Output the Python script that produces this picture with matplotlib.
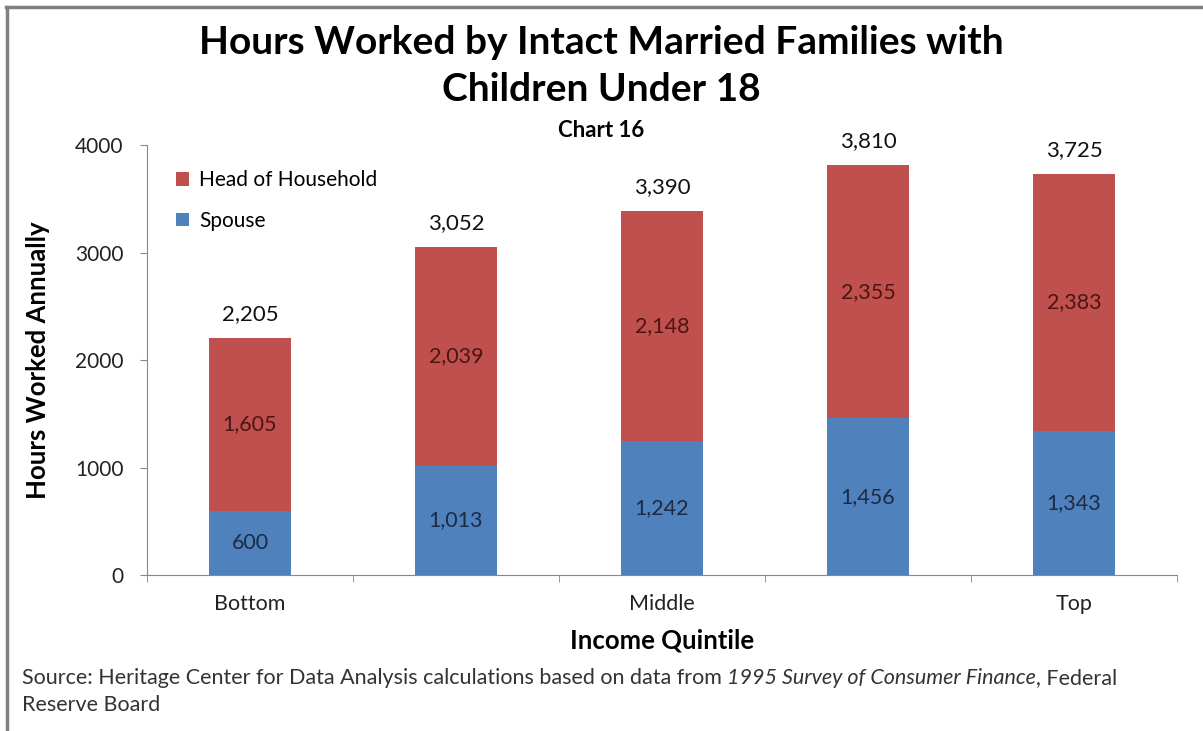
import matplotlib
matplotlib.use("Agg")
import matplotlib.pyplot as plt
from matplotlib.lines import Line2D
import numpy as np

plt.rcParams["font.family"] = ["Lato", "DejaVu Sans"]

quintiles = ["Bottom", "", "Middle", "", "Top"]
spouse = [600, 1013, 1242, 1456, 1343]
head = [1605, 2039, 2148, 2355, 2383]
totals = [2205, 3052, 3390, 3810, 3725]

red = "#C0504D"
blue = "#4F81BD"

fig = plt.figure(figsize=(12.03, 7.31), dpi=100)
ax = fig.add_axes([0.1222, 0.2134, 0.8562, 0.5882])

x = np.arange(len(quintiles))
b1 = ax.bar(x, spouse, width=0.4, color=blue, label="Spouse", zorder=2)
b2 = ax.bar(x, head, width=0.4, bottom=spouse, color=red,
            label="Head of Household", zorder=2)

# etiquetas dentro das barras
for xi, s, h in zip(x, spouse, head):
    ax.text(xi, s / 2, f"{s:,}", ha="center", va="center",
            fontsize=15.5, color="#1c2a44")
    ax.text(xi, s + h / 2, f"{h:,}", ha="center", va="center",
            fontsize=15.5, color="#4a1514")

# totais acima das barras
for xi, s, h, t in zip(x, spouse, head, totals):
    ax.text(xi, s + h + 130, f"{t:,}", ha="center", va="bottom",
            fontsize=16, color="#111111")

ax.set_xlim(-0.5, 4.5)
ax.set_ylim(0, 4000)
ax.set_yticks([0, 1000, 2000, 3000, 4000])
ax.tick_params(axis="y", labelsize=15, length=5, color="#888888",
               labelcolor="#222222", pad=12)
ax.set_xticks(x)
ax.set_xticklabels(quintiles)
ax.set_xticks(np.arange(-0.5, 5.0, 1.0), minor=True)
ax.tick_params(axis="x", which="major", length=0, labelsize=15.5,
               labelcolor="#222222", pad=14)
ax.tick_params(axis="x", which="minor", length=5, color="#888888")

for side in ["top", "right"]:
    ax.spines[side].set_visible(False)
for side in ["left", "bottom"]:
    ax.spines[side].set_color("#888888")

ax.set_ylabel("Hours Worked Annually", fontsize=18.5, fontweight="bold",
              labelpad=18)
ax.set_xlabel("Income Quintile", fontsize=18.5, fontweight="bold", labelpad=10)

ax.legend(handles=[b2, b1], loc="upper left", bbox_to_anchor=(0.01, 0.985),
          frameon=False, fontsize=15, handlelength=0.6, handleheight=0.6,
          handletextpad=0.5, labelspacing=1.0)

fig.text(0.5, 0.942, "Hours Worked by Intact Married Families with",
         ha="center", va="center", fontsize=28, fontweight="bold")
fig.text(0.5, 0.878, "Children Under 18", ha="center", va="center",
         fontsize=28, fontweight="bold")
fig.text(0.5, 0.822, "Chart 16", ha="center", va="center",
         fontsize=16, fontweight="bold")

# fonte: três pedaços em sequência, o do meio em itálico
partes = [
    ("Source: Heritage Center for Data Analysis calculations based on data from ", "normal"),
    ("1995 Survey of Consumer Finance", "italic"),
    (", Federal", "normal"),
]
renderer = fig.canvas.get_renderer()
x0 = 0.018
for txt, estilo in partes:
    t = fig.text(x0, 0.072, txt, ha="left", va="center", fontsize=15.5,
                 color="#333333", style=estilo)
    bb = t.get_window_extent(renderer=renderer)
    x0 = bb.x1 / fig.bbox.width
fig.text(0.018, 0.035, "Reserve Board", ha="left", va="center",
         fontsize=15.5, color="#333333")

# moldura cinza no topo e à esquerda
fig.add_artist(Line2D([0.005, 1.0], [0.991, 0.991], color="#808080", lw=2.5))
fig.add_artist(Line2D([0.0055, 0.0055], [0.0, 0.991], color="#808080", lw=2.5))

fig.savefig("out.png", dpi=100)
